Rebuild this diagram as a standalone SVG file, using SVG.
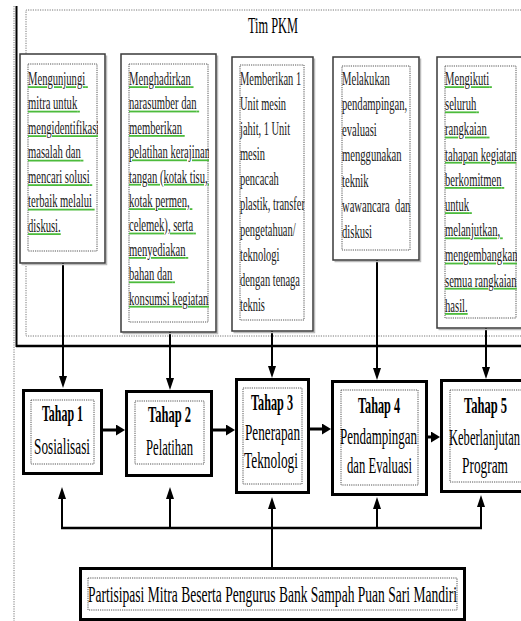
<svg xmlns="http://www.w3.org/2000/svg" width="521" height="621" viewBox="0 0 521 621">
<style>
.tb{fill:#fff;stroke:#3a3a3a;stroke-width:1.5}
.sh{fill:none;stroke:#bbb;stroke-width:1.5}
.dot{fill:none;stroke:#555;stroke-width:1;stroke-dasharray:1.2 1}
.odot{fill:none;stroke:#777;stroke-width:1;stroke-dasharray:1.2 1.2}
.th{fill:#fff;stroke:#000;stroke-width:3}
.bt{font-family:"Liberation Serif","Times New Roman",serif;font-size:18px;fill:#1a1a1a}
.ul{fill:#4cbb3c;text-decoration:underline}
.ul tspan{fill:#1a1a1a}
.tt{font-family:"Liberation Serif","Times New Roman",serif;font-size:23px;fill:#000;text-anchor:middle}
.b{font-weight:bold}
.cn{fill:none;stroke:#000;stroke-width:2}
.ck{fill:none;stroke:#000;stroke-width:3}
</style>
<defs>
<marker id="ah" markerUnits="userSpaceOnUse" markerWidth="12" markerHeight="8" viewBox="0 0 12 8" refX="0.5" refY="4" orient="auto"><path d="M0,0 L12,4 L0,8 z" fill="#000"/></marker>
<marker id="ahh" markerUnits="userSpaceOnUse" markerWidth="9" markerHeight="11" viewBox="0 0 9 11" refX="0.5" refY="5.5" orient="auto"><path d="M0,0 L9,5.5 L0,11 z" fill="#000"/></marker>
<clipPath id="c1"><rect x="28" y="64" width="70" height="187"/></clipPath>
<clipPath id="c2"><rect x="129" y="64" width="80" height="258"/></clipPath>
<clipPath id="c3"><rect x="240" y="65" width="64.5" height="255"/></clipPath>
<clipPath id="c4"><rect x="342" y="66" width="69" height="184"/></clipPath>
<clipPath id="c5"><rect x="445" y="66" width="72" height="252"/></clipPath>
</defs>
<rect x="0" y="0" width="521" height="621" fill="#fff"/>

<g id="tim-pkm">
<line class="odot" x1="14" y1="6" x2="14" y2="621"/>
<line x1="16.5" y1="6" x2="16.5" y2="347" stroke="#000" stroke-width="2"/>
<line x1="16" y1="346" x2="521" y2="346" stroke="#000" stroke-width="2.5"/>
<path class="odot" d="M526,10 H26 V336 H526"/>
<text class="tt" x="273" y="33" font-size="24" textLength="50" lengthAdjust="spacingAndGlyphs">Tim PKM</text>
</g>

<g id="connectors">
<line class="cn" x1="63" y1="263" x2="63" y2="376.5" marker-end="url(#ah)"/>
<line class="cn" x1="170" y1="332" x2="170" y2="378.5" marker-end="url(#ah)"/>
<line class="cn" x1="272" y1="331" x2="272" y2="366.5" marker-end="url(#ah)"/>
<line class="cn" x1="377" y1="260" x2="377" y2="368.5" marker-end="url(#ah)"/>
<line class="cn" x1="486" y1="328" x2="486" y2="367.5" marker-end="url(#ah)"/>
<line class="ck" x1="103" y1="430" x2="116.5" y2="430" marker-end="url(#ahh)"/>
<line class="ck" x1="213" y1="430" x2="226.5" y2="430" marker-end="url(#ahh)"/>
<line class="ck" x1="310" y1="429" x2="322.5" y2="429" marker-end="url(#ahh)"/>
<line class="ck" x1="428" y1="437" x2="431.5" y2="437" marker-end="url(#ahh)"/>
<line x1="61" y1="528" x2="482" y2="528" stroke="#000" stroke-width="2.5"/>
<line class="cn" x1="62" y1="529" x2="62" y2="498.5" marker-end="url(#ah)"/>
<line class="cn" x1="170" y1="529" x2="170" y2="498.5" marker-end="url(#ah)"/>
<line class="cn" x1="272" y1="567" x2="272" y2="508.5" marker-end="url(#ah)"/>
<line class="cn" x1="377" y1="529" x2="377" y2="508.5" marker-end="url(#ah)"/>
<line class="cn" x1="481" y1="529" x2="481" y2="506.5" marker-end="url(#ah)"/>
</g>

<g id="box1">
<path class="sh" d="M106.5,55.5 V264.5 H21.5"/>
<rect class="tb" x="20" y="54" width="85" height="209"/>
<rect class="dot" x="28" y="64" width="69" height="187"/>
<g clip-path="url(#c1)"><text class="bt ul" transform="translate(28,0) scale(0.59,1)">
<tspan x="0" y="85">Mengunjungi</tspan>
<tspan x="0" y="109.5">mitra untuk</tspan>
<tspan x="0" y="134">mengidentifikasi</tspan>
<tspan x="0" y="158.5">masalah dan</tspan>
<tspan x="0" y="183">mencari solusi</tspan>
<tspan x="0" y="207.5">terbaik melalui</tspan>
<tspan x="0" y="232">diskusi.</tspan>
</text></g>
</g>

<g id="box2">
<path class="sh" d="M217.5,55.5 V333.5 H122.5"/>
<rect class="tb" x="121" y="54" width="95" height="278"/>
<rect class="dot" x="129" y="64" width="79" height="258"/>
<g clip-path="url(#c2)"><text class="bt ul" transform="translate(129,0) scale(0.59,1)">
<tspan x="0" y="85">Menghadirkan</tspan>
<tspan x="0" y="109.4">narasumber dan</tspan>
<tspan x="0" y="133.8">memberikan</tspan>
<tspan x="0" y="158.2">pelatihan kerajinan</tspan>
<tspan x="0" y="182.6">tangan (kotak tisu,</tspan>
<tspan x="0" y="207">kotak permen,</tspan>
<tspan x="0" y="231.4">celemek), serta</tspan>
<tspan x="0" y="255.8">menyediakan</tspan>
<tspan x="0" y="280.2">bahan dan</tspan>
<tspan x="0" y="304.6">konsumsi kegiatan.</tspan>
</text></g>
</g>

<g id="box3">
<path class="sh" d="M314.5,58.5 V332.5 H233.5"/>
<rect class="tb" x="232" y="57" width="81" height="274"/>
<rect class="dot" x="240" y="65" width="64" height="255"/>
<g clip-path="url(#c3)"><text class="bt" transform="translate(240,0) scale(0.58,1)">
<tspan x="0" y="85">Memberikan 1</tspan>
<tspan x="0" y="110.1">Unit mesin</tspan>
<tspan x="0" y="135.2">jahit, 1 Unit</tspan>
<tspan x="0" y="160.3">mesin</tspan>
<tspan x="0" y="185.4">pencacah</tspan>
<tspan x="0" y="210.5">plastik, transfer</tspan>
<tspan x="0" y="235.6">pengetahuan/</tspan>
<tspan x="0" y="260.7">teknologi</tspan>
<tspan x="0" y="285.8">dengan tenaga</tspan>
<tspan x="0" y="310.9">teknis</tspan>
</text></g>
</g>

<g id="box4">
<path class="sh" d="M420.5,58.5 V261.5 H334.5"/>
<rect class="tb" x="333" y="57" width="86" height="203"/>
<rect class="dot" x="342" y="66" width="68" height="184"/>
<g clip-path="url(#c4)"><text class="bt" transform="translate(342,0) scale(0.59,1)">
<tspan x="0" y="85">Melakukan</tspan>
<tspan x="0" y="110.5">pendampingan,</tspan>
<tspan x="0" y="136">evaluasi</tspan>
<tspan x="0" y="161.5">menggunakan</tspan>
<tspan x="0" y="187">teknik</tspan>
<tspan x="0" y="212.5">wawancara</tspan><tspan x="90" y="212.5">dan</tspan>
<tspan x="0" y="238">diskusi</tspan>
</text></g>
</g>

<g id="box5">
<path class="sh" d="M438.5,329.5 H527"/>
<rect class="tb" x="437" y="57" width="92" height="271"/>
<rect class="dot" x="445" y="66" width="71" height="252"/>
<g clip-path="url(#c5)"><text class="bt ul" transform="translate(445,0) scale(0.59,1)">
<tspan x="0" y="85">Mengikuti</tspan>
<tspan x="0" y="110.2">seluruh</tspan>
<tspan x="0" y="135.4">rangkaian</tspan>
<tspan x="0" y="160.6">tahapan kegiatan,</tspan>
<tspan x="0" y="185.8">berkomitmen</tspan>
<tspan x="0" y="211">untuk</tspan>
<tspan x="0" y="236.2">melanjutkan,</tspan>
<tspan x="0" y="261.4">mengembangkan</tspan>
<tspan x="0" y="286.6">semua rangkaian</tspan>
<tspan x="0" y="311.8">hasil.</tspan>
</text></g>
</g>

<g id="tahap1">
<rect class="th" x="23.5" y="390.5" width="78" height="83"/>
<rect class="dot" x="31" y="400" width="63" height="64"/>
<text class="tt b" x="62.5" y="421" textLength="41" lengthAdjust="spacingAndGlyphs">Tahap 1</text>
<text class="tt" x="62" y="454" textLength="56" lengthAdjust="spacingAndGlyphs">Sosialisasi</text>
</g>

<g id="tahap2">
<rect class="th" x="126.5" y="391.5" width="85" height="84"/>
<rect class="dot" x="135" y="401" width="69" height="63"/>
<text class="tt b" x="169.5" y="422" textLength="43" lengthAdjust="spacingAndGlyphs">Tahap 2</text>
<text class="tt" x="169.5" y="455" textLength="47" lengthAdjust="spacingAndGlyphs">Pelatihan</text>
</g>

<g id="tahap3">
<rect class="th" x="236.5" y="379.5" width="72" height="113"/>
<rect class="dot" x="243" y="388" width="59" height="96"/>
<text class="tt b" x="272" y="410" textLength="42" lengthAdjust="spacingAndGlyphs">Tahap 3</text>
<text class="tt" x="272.5" y="440" textLength="55" lengthAdjust="spacingAndGlyphs">Penerapan</text>
<text class="tt" x="271" y="468" textLength="54" lengthAdjust="spacingAndGlyphs">Teknologi</text>
</g>

<g id="tahap4">
<rect class="th" x="332.5" y="381.5" width="94" height="113"/>
<rect class="dot" x="341" y="390" width="77" height="95"/>
<text class="tt b" x="379" y="413" textLength="42" lengthAdjust="spacingAndGlyphs">Tahap 4</text>
<text class="tt" x="378.5" y="444" textLength="77" lengthAdjust="spacingAndGlyphs">Pendampingan</text>
<text class="tt" x="379.5" y="473" textLength="65" lengthAdjust="spacingAndGlyphs">dan Evaluasi</text>
</g>

<g id="tahap5">
<rect class="th" x="441.5" y="380.5" width="90" height="111"/>
<rect class="dot" x="450" y="390" width="80" height="92"/>
<text class="tt b" x="485.5" y="413" textLength="43" lengthAdjust="spacingAndGlyphs">Tahap 5</text>
<text class="tt" x="484.5" y="445" textLength="71" lengthAdjust="spacingAndGlyphs">Keberlanjutan</text>
<text class="tt" x="485" y="473" textLength="46" lengthAdjust="spacingAndGlyphs">Program</text>
</g>

<g id="partisipasi">
<rect class="th" x="80.5" y="568.5" width="384" height="51"/>
<rect class="dot" x="88" y="578" width="369" height="32"/>
<text class="tt" x="272.5" y="602" font-size="25" textLength="369" lengthAdjust="spacingAndGlyphs">Partisipasi Mitra Beserta Pengurus Bank Sampah Puan Sari Mandiri</text>
</g>
</svg>
